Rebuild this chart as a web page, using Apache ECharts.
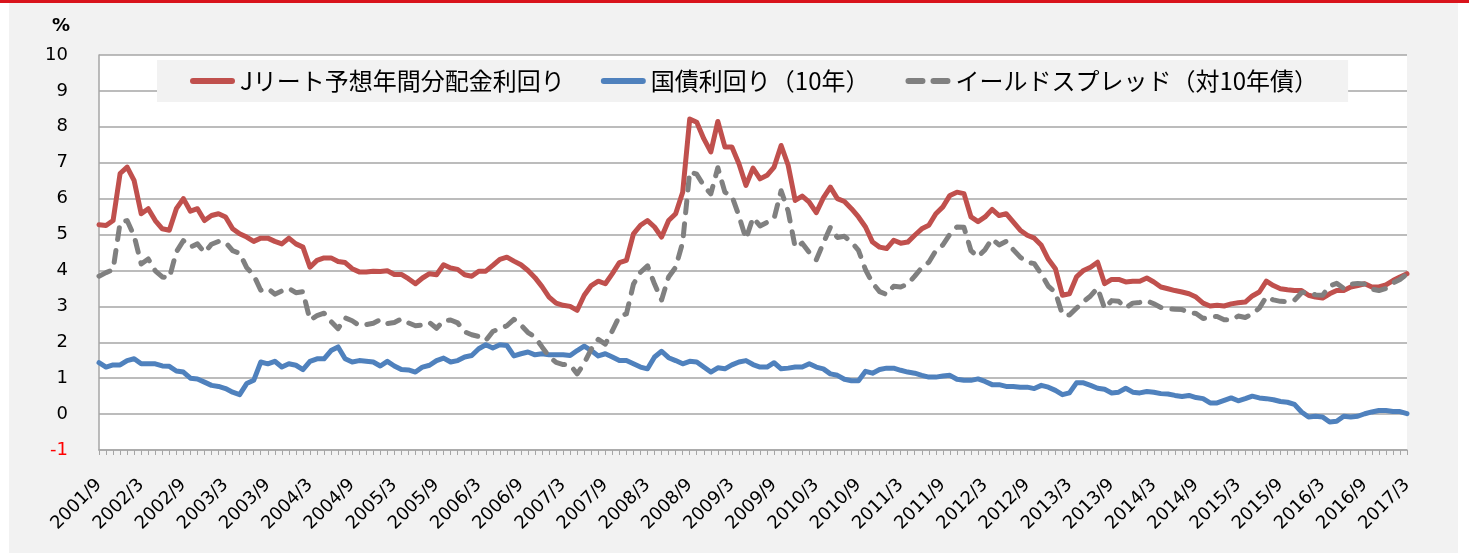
<!DOCTYPE html>
<html lang="ja">
<head>
<meta charset="utf-8">
<title>Jリート予想年間分配金利回り・国債利回り・イールドスプレッド</title>
<script src="https://cdn.jsdelivr.net/npm/echarts@6/dist/echarts.min.js"></script>
<style>
  html, body { margin: 0; padding: 0; background: #ffffff; }
  #wrap { position: relative; width: 1469px; height: 553px; overflow: hidden; }
  #topRule { position: absolute; left: 0; top: 0; width: 1469px; height: 3px; background: #d9141c; }
  #panel { position: absolute; left: 9px; top: 3px; width: 1449px; height: 550px; background: #f2f2f2; }
  #chart { position: absolute; left: 0; top: 0; width: 1469px; height: 553px; }
</style>
</head>
<body>
<div id="wrap">
  <div id="topRule"></div>
  <div id="panel"></div>
  <div id="chart"></div>
</div>
<script>
// Monthly axis: 2001/9 through 2017/3
const startYear = 2001;
const startMonth = 9;
const monthCount = 187;
const months = [];
for (let k = 0; k < monthCount; k++) {
  const m = startMonth - 1 + k;
  months.push((startYear + Math.floor(m / 12)) + '/' + (m % 12 + 1));
}

const seriesNames = ['Jリート予想年間分配金利回り', '国債利回り（10年）', 'イールドスプレッド（対10年債）'];

// J-REIT forecast annual distribution yield (%)
const jreitYield = [
  5.27, 5.25, 5.39, 6.70, 6.88, 6.50, 5.58, 5.72, 5.39, 5.16,
  5.12, 5.72, 6.00, 5.65, 5.72, 5.39, 5.53, 5.58, 5.49, 5.16,
  5.02, 4.93, 4.81, 4.90, 4.90, 4.81, 4.74, 4.90, 4.74, 4.65,
  4.09, 4.28, 4.35, 4.35, 4.25, 4.22, 4.05, 3.96, 3.96, 3.98,
  3.97, 3.99, 3.89, 3.89, 3.77, 3.63, 3.79, 3.91, 3.88, 4.16,
  4.07, 4.03, 3.88, 3.84, 3.98, 3.98, 4.14, 4.31, 4.37, 4.26,
  4.16, 4.00, 3.80, 3.55, 3.26, 3.09, 3.03, 3.00, 2.89, 3.31,
  3.58, 3.70, 3.63, 3.91, 4.22, 4.28, 5.02, 5.26, 5.39, 5.21,
  4.93, 5.39, 5.58, 6.18, 8.22, 8.13, 7.67, 7.30, 8.15, 7.44,
  7.44, 6.97, 6.37, 6.85, 6.55, 6.65, 6.88, 7.48, 6.93, 5.95,
  6.07, 5.90, 5.61, 6.02, 6.32, 6.00, 5.92, 5.72, 5.49, 5.21,
  4.79, 4.65, 4.61, 4.84, 4.76, 4.79, 4.98, 5.16, 5.26, 5.58,
  5.77, 6.09, 6.18, 6.14, 5.49, 5.36, 5.49, 5.70, 5.53, 5.58,
  5.35, 5.12, 4.98, 4.90, 4.70, 4.31, 4.05, 3.31, 3.35, 3.82,
  4.00, 4.09, 4.23, 3.63, 3.75, 3.75, 3.68, 3.70, 3.70, 3.79,
  3.68, 3.54, 3.49, 3.44, 3.40, 3.35, 3.26, 3.09, 3.01, 3.03,
  3.01, 3.07, 3.10, 3.12, 3.29, 3.40, 3.70, 3.58, 3.49, 3.46,
  3.44, 3.44, 3.31, 3.26, 3.23, 3.35, 3.44, 3.44, 3.54, 3.58,
  3.63, 3.54, 3.54, 3.60, 3.72, 3.82, 3.91
];

// 10-year JGB yield (%)
const jgbYield = [
  1.43, 1.31, 1.37, 1.37, 1.49, 1.54, 1.40, 1.40, 1.40, 1.34,
  1.33, 1.20, 1.17, 1.00, 0.98, 0.89, 0.80, 0.77, 0.71, 0.61,
  0.54, 0.85, 0.94, 1.45, 1.40, 1.47, 1.31, 1.40, 1.36, 1.24,
  1.47, 1.54, 1.54, 1.77, 1.87, 1.54, 1.45, 1.49, 1.47, 1.45,
  1.34, 1.47, 1.34, 1.24, 1.23, 1.17, 1.31, 1.36, 1.49, 1.56,
  1.45, 1.49, 1.59, 1.63, 1.82, 1.93, 1.84, 1.93, 1.91, 1.62,
  1.68, 1.73, 1.65, 1.68, 1.65, 1.65, 1.65, 1.63, 1.77, 1.89,
  1.77, 1.62, 1.68, 1.59, 1.49, 1.49, 1.40, 1.31, 1.26, 1.59,
  1.75, 1.57, 1.49, 1.40, 1.47, 1.45, 1.31, 1.17, 1.29, 1.26,
  1.37, 1.45, 1.49, 1.38, 1.31, 1.31, 1.43, 1.26, 1.28, 1.31,
  1.31, 1.40, 1.31, 1.26, 1.12, 1.08, 0.97, 0.93, 0.93, 1.19,
  1.14, 1.24, 1.28, 1.28, 1.22, 1.17, 1.14, 1.08, 1.03, 1.03,
  1.06, 1.08, 0.97, 0.94, 0.94, 0.98, 0.91, 0.82, 0.82, 0.77,
  0.77, 0.75, 0.75, 0.71, 0.80, 0.75, 0.66, 0.54, 0.59, 0.87,
  0.87, 0.80, 0.72, 0.69, 0.59, 0.61, 0.72, 0.61, 0.59, 0.63,
  0.61, 0.57, 0.56, 0.52, 0.49, 0.52, 0.46, 0.43, 0.31, 0.31,
  0.38, 0.45, 0.37, 0.43, 0.50, 0.45, 0.43, 0.40, 0.35, 0.33,
  0.27, 0.06, -0.08, -0.06, -0.08, -0.22, -0.20, -0.06, -0.08, -0.06,
  0.01, 0.06, 0.10, 0.10, 0.07, 0.07, 0.01
];

// Yield spread over the 10-year JGB (%)
const yieldSpread = [
  3.84, 3.94, 4.02, 5.33, 5.39, 4.96, 4.18, 4.32, 3.99, 3.82,
  3.79, 4.52, 4.83, 4.65, 4.74, 4.50, 4.73, 4.81, 4.78, 4.55,
  4.48, 4.08, 3.87, 3.45, 3.50, 3.34, 3.43, 3.50, 3.38, 3.41,
  2.62, 2.74, 2.81, 2.58, 2.38, 2.68, 2.60, 2.47, 2.49, 2.53,
  2.63, 2.52, 2.55, 2.65, 2.54, 2.46, 2.48, 2.55, 2.39, 2.60,
  2.62, 2.54, 2.29, 2.21, 2.16, 2.05, 2.30, 2.38, 2.46, 2.64,
  2.48, 2.27, 2.15, 1.87, 1.61, 1.44, 1.38, 1.37, 1.12, 1.42,
  1.81, 2.08, 1.95, 2.32, 2.73, 2.79, 3.62, 3.95, 4.13, 3.62,
  3.18, 3.82, 4.09, 4.78, 6.75, 6.68, 6.36, 6.13, 6.86, 6.18,
  6.07, 5.52, 4.88, 5.47, 5.24, 5.34, 5.45, 6.22, 5.65, 4.64,
  4.76, 4.50, 4.30, 4.76, 5.20, 4.92, 4.95, 4.79, 4.56, 4.02,
  3.65, 3.41, 3.33, 3.56, 3.54, 3.62, 3.84, 4.08, 4.23, 4.55,
  4.71, 5.01, 5.21, 5.20, 4.55, 4.38, 4.58, 4.88, 4.71, 4.81,
  4.58, 4.37, 4.23, 4.19, 3.90, 3.56, 3.39, 2.77, 2.76, 2.95,
  3.13, 3.29, 3.51, 2.94, 3.16, 3.14, 2.96, 3.09, 3.11, 3.16,
  3.07, 2.97, 2.93, 2.92, 2.91, 2.83, 2.80, 2.66, 2.70, 2.72,
  2.63, 2.62, 2.73, 2.69, 2.79, 2.95, 3.27, 3.18, 3.14, 3.13,
  3.17, 3.38, 3.39, 3.32, 3.31, 3.57, 3.64, 3.50, 3.62, 3.64,
  3.62, 3.48, 3.44, 3.50, 3.65, 3.75, 3.90
];

const yMin = -1;
const yMax = 10;
const yStep = 1;

const lineColors = ['#c0504d', '#4f81bd', '#808080'];
const axisGray = '#a6a6a6';
const numFont = '"DejaVu Sans", Verdana, sans-serif';
const jpFont = '"Noto Sans CJK JP", sans-serif';

// Legend keys: a solid bar for the yields, two short bars for the dashed spread
const solidKey = 'path://M3,0H42A3,3 0 0 1 42,6H3A3,3 0 0 1 3,0Z';
const dashedKey = 'path://M3,0H17A3,3 0 0 1 17,6H3A3,3 0 0 1 3,0Z M28,0H42A3,3 0 0 1 42,6H28A3,3 0 0 1 28,0Z';

const chart = echarts.init(document.getElementById('chart'), null, { renderer: 'canvas' });

chart.setOption({
  backgroundColor: 'transparent',
  animation: false,
  grid: {
    left: 99,
    right: 62,
    top: 55,
    bottom: 103,
    show: true,
    backgroundColor: '#ffffff',
    borderWidth: 0
  },
  graphic: [
    {
      type: 'text',
      left: 52,
      top: 17,
      style: {
        text: '%',
        fontFamily: numFont,
        fontSize: 18,
        fontWeight: 'bold',
        fill: '#000000'
      }
    }
  ],
  legend: {
    left: 157,
    top: 60,
    padding: [9, 30, 9, 33],
    itemGap: 36,
    itemWidth: 45,
    itemHeight: 6,
    backgroundColor: '#f2f2f2',
    textStyle: { fontFamily: jpFont, fontSize: 24, color: '#000000' },
    data: [
      { name: seriesNames[0], icon: solidKey },
      { name: seriesNames[1], icon: solidKey },
      { name: seriesNames[2], icon: dashedKey }
    ]
  },
  xAxis: {
    type: 'category',
    data: months,
    boundaryGap: false,
    axisLine: { show: true, onZero: false, lineStyle: { color: axisGray, width: 1.5 } },
    axisTick: { show: true, interval: 0, length: 5, lineStyle: { color: axisGray, width: 1 } },
    axisLabel: {
      interval: 5,
      rotate: 45,
      margin: 32,
      fontFamily: numFont,
      fontSize: 18,
      color: '#000000'
    },
    splitLine: { show: false }
  },
  yAxis: {
    type: 'value',
    min: yMin,
    max: yMax,
    interval: yStep,
    axisLine: { show: true, lineStyle: { color: axisGray, width: 1.5 } },
    axisTick: { show: false },
    axisLabel: {
      margin: 31,
      fontFamily: numFont,
      fontSize: 18,
      color: function (v) { return v < 0 ? '#ff0000' : '#000000'; }
    },
    splitLine: { show: true, lineStyle: { color: axisGray, width: 1.5 } }
  },
  series: [
    {
      name: seriesNames[0],
      type: 'line',
      data: jreitYield,
      symbol: 'none',
      color: lineColors[0],
      lineStyle: { width: 5, color: lineColors[0], cap: 'round', join: 'round' }
    },
    {
      name: seriesNames[1],
      type: 'line',
      data: jgbYield,
      symbol: 'none',
      color: lineColors[1],
      lineStyle: { width: 5, color: lineColors[1], cap: 'round', join: 'round' }
    },
    {
      name: seriesNames[2],
      type: 'line',
      data: yieldSpread,
      symbol: 'none',
      color: lineColors[2],
      lineStyle: { width: 5, color: lineColors[2], type: [12, 11], cap: 'round', join: 'round' }
    }
  ]
});
</script>
</body>
</html>
